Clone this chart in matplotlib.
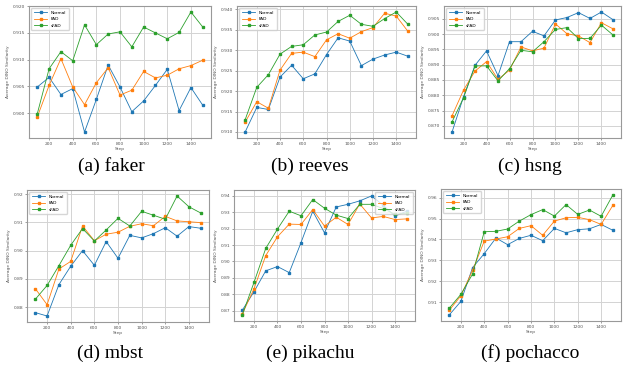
import matplotlib
matplotlib.use("Agg")
from matplotlib import pyplot as plt
from matplotlib.ticker import MultipleLocator, FormatStrFormatter

steps = [100, 200, 300, 400, 500, 600, 700, 800, 900, 1000, 1100, 1200, 1300, 1400, 1500]
series_names = ["Normal", "FAD", "sFAD"]

# faker
faker_normal = [0.9049, 0.9067, 0.9035, 0.9046, 0.8965, 0.9026, 0.9090, 0.9049, 0.9003, 0.9023,
                0.9052, 0.9082, 0.9005, 0.9048, 0.9015]
faker_fad = [0.8993, 0.9052, 0.9102, 0.9049, 0.9016, 0.9057, 0.9085, 0.9034, 0.9043, 0.9078,
             0.9066, 0.9071, 0.9083, 0.9089, 0.9099]
faker_sfad = [0.8999, 0.9083, 0.9115, 0.9098, 0.9165, 0.9128, 0.9148, 0.9152, 0.9124, 0.9161,
              0.9150, 0.9139, 0.9151, 0.9189, 0.9161]

# reeves
reeves_normal = [0.9100, 0.9160, 0.9155, 0.9234, 0.9263, 0.9230, 0.9242, 0.9289, 0.9330, 0.9322,
                 0.9262, 0.9278, 0.9288, 0.9295, 0.9285]
reeves_fad = [0.9124, 0.9174, 0.9158, 0.9251, 0.9292, 0.9295, 0.9284, 0.9325, 0.9340, 0.9329,
              0.9345, 0.9355, 0.9390, 0.9383, 0.9346]
reeves_sfad = [0.9130, 0.9209, 0.9240, 0.9290, 0.9309, 0.9313, 0.9337, 0.9344, 0.9370, 0.9385,
               0.9363, 0.9358, 0.9377, 0.9393, 0.9363]

# hsng
hsng_normal = [0.8680, 0.8795, 0.8898, 0.8945, 0.8864, 0.8975, 0.8975, 0.9009, 0.8994, 0.9046,
               0.9054, 0.9070, 0.9051, 0.9072, 0.9047]
hsng_fad = [0.8733, 0.8817, 0.8879, 0.8910, 0.8852, 0.8882, 0.8958, 0.8945, 0.8954, 0.9033,
            0.9001, 0.8994, 0.8972, 0.9037, 0.9017]
hsng_sfad = [0.8713, 0.8792, 0.8896, 0.8896, 0.8847, 0.8887, 0.8947, 0.8942, 0.8975, 0.9015,
             0.9021, 0.8985, 0.8986, 0.9029, 0.8997]

# mbst
mbst_normal = [0.8781, 0.8769, 0.8880, 0.8945, 0.9000, 0.8948, 0.9032, 0.8973, 0.9054, 0.9045,
               0.9060, 0.9081, 0.9051, 0.9085, 0.9079]
mbst_fad = [0.8866, 0.8809, 0.8935, 0.8962, 0.9087, 0.9035, 0.9058, 0.9065, 0.9086, 0.9095,
            0.9088, 0.9121, 0.9105, 0.9102, 0.9099]
mbst_sfad = [0.8828, 0.8877, 0.8947, 0.9019, 0.9078, 0.9034, 0.9073, 0.9114, 0.9087, 0.9139,
             0.9125, 0.9111, 0.9193, 0.9155, 0.9133]

# pikachu
pikachu_normal = [0.8702, 0.8815, 0.8943, 0.8969, 0.8932, 0.9115, 0.9307, 0.9175, 0.9333, 0.9349,
                  0.9370, 0.9400, 0.9343, 0.9277, 0.9307]
pikachu_fad = [0.8679, 0.8833, 0.9036, 0.9151, 0.9228, 0.9226, 0.9317, 0.9216, 0.9270, 0.9226,
               0.9351, 0.9266, 0.9275, 0.9256, 0.9260]
pikachu_sfad = [0.8673, 0.8872, 0.9080, 0.9198, 0.9307, 0.9279, 0.9378, 0.9325, 0.9283, 0.9262,
                0.9349, 0.9349, 0.9323, 0.9287, 0.9295]

# pochacco
pochacco_normal = [0.9038, 0.9103, 0.9265, 0.9332, 0.9407, 0.9375, 0.9405, 0.9420, 0.9394, 0.9453,
                   0.9432, 0.9447, 0.9451, 0.9472, 0.9444]
pochacco_fad = [0.9060, 0.9130, 0.9252, 0.9392, 0.9402, 0.9413, 0.9453, 0.9466, 0.9420, 0.9488,
                0.9504, 0.9506, 0.9495, 0.9472, 0.9563]
pochacco_sfad = [0.9070, 0.9137, 0.9234, 0.9437, 0.9439, 0.9450, 0.9488, 0.9519, 0.9543, 0.9512,
                 0.9567, 0.9520, 0.9541, 0.9511, 0.9613]

panels = [
    ("(a) faker", [faker_normal, faker_fad, faker_sfad], 0.005, "%.3f", "upper left"),
    ("(b) reeves", [reeves_normal, reeves_fad, reeves_sfad], 0.005, "%.3f", "upper left"),
    ("(c) hsng", [hsng_normal, hsng_fad, hsng_sfad], 0.005, "%.3f", "upper left"),
    ("(d) mbst", [mbst_normal, mbst_fad, mbst_sfad], 0.01, "%.2f", "upper left"),
    ("(e) pikachu", [pikachu_normal, pikachu_fad, pikachu_sfad], 0.01, "%.2f", "upper right"),
    ("(f) pochacco", [pochacco_normal, pochacco_fad, pochacco_sfad], 0.01, "%.2f", "upper left"),
]

W, H = 623, 373
# axes boxes in pixels: x0, y0, x1, y1 (top-left origin)
boxes = [(29, 6, 211, 138), (237, 6, 416, 138), (444, 6, 621, 138),
         (27, 190, 209, 322), (234, 190, 415, 321), (441, 189, 621, 321)]
caption_x = [111, 310, 530, 110, 310, 530]
caption_y = [166, 166, 166, 353, 353, 353]

colors = ["#1f77b4", "#ff7f0e", "#2ca02c"]
fs = 3.2

fig = plt.figure(figsize=(W / 100, H / 100), dpi=100)

for i, (caption, data, step, fmt, loc) in enumerate(panels):
    x0, y0, x1, y1 = boxes[i]
    ax = fig.add_axes([x0 / W, 1 - y1 / H, (x1 - x0) / W, (y1 - y0) / H])
    for name, vals, c in zip(series_names, data, colors):
        ax.plot(steps, vals, color=c, marker="s", markersize=1.6, linewidth=0.6, label=name)
    ax.xaxis.set_major_locator(MultipleLocator(200))
    ax.yaxis.set_major_locator(MultipleLocator(step))
    ax.yaxis.set_major_formatter(FormatStrFormatter(fmt))
    ax.grid(True, color="#d3d3d3", linewidth=0.7)
    ax.set_axisbelow(True)
    ax.tick_params(labelsize=fs, length=1.2, width=0.4, pad=1.5, colors="#555555")
    for sp in ax.spines.values():
        sp.set_color("#999999")
        sp.set_linewidth(0.8)
    ax.set_xlabel("Step", fontsize=fs, labelpad=1, color="#555555")
    ax.set_ylabel("Average DINO Similarity", fontsize=fs, labelpad=2, color="#555555")
    ax.legend(loc=loc, fontsize=fs, handlelength=3, markerscale=1, borderpad=0.6,
              labelspacing=0.5, framealpha=0.8, edgecolor="#cccccc", fancybox=True)
    fig.text(caption_x[i] / W, 1 - caption_y[i] / H, caption, ha="center", va="center",
             fontsize=14, family="Liberation Serif")

fig.savefig("out.png", dpi=100)
